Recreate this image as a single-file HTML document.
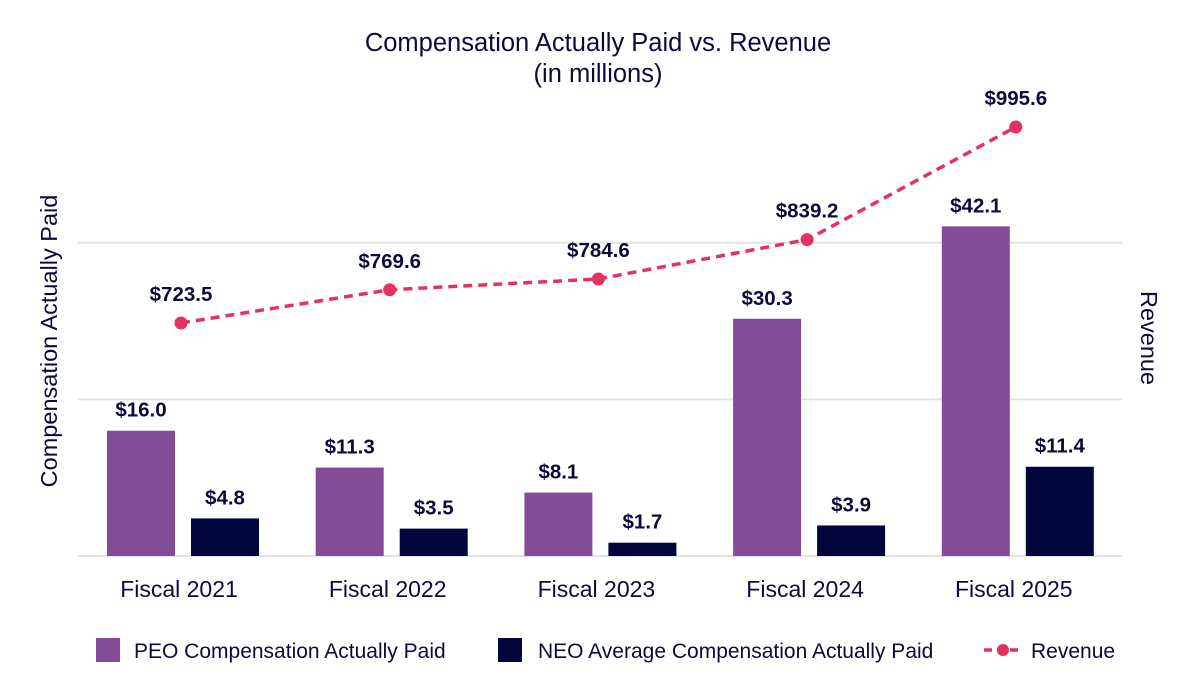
<!DOCTYPE html>
<html><head><meta charset="utf-8">
<style>
body{margin:0;background:#fff;}
svg{display:block;font-family:"Liberation Sans",Arial,sans-serif;}
</style></head>
<body>
<svg id="chart" width="1200" height="700" viewBox="0 0 1200 700">
<text x="598" y="51" text-anchor="middle" font-size="25.5" fill="#0b0b3b">Compensation Actually Paid vs. Revenue</text>
<text x="598" y="82" text-anchor="middle" font-size="25.5" fill="#0b0b3b">(in millions)</text>
<text transform="translate(57,341) rotate(-90)" text-anchor="middle" font-size="23.5" fill="#0b0b3b">Compensation Actually Paid</text>
<text transform="translate(1141,338) rotate(90)" text-anchor="middle" font-size="23.5" fill="#0b0b3b">Revenue</text>
<g id="grid"></g><g id="bars"></g><g id="line"></g><g id="labels"></g>
<g>
<rect x="96" y="638" width="24" height="24" fill="#844b96"/>
<text x="134" y="658" font-size="21" fill="#0b0b3b">PEO Compensation Actually Paid</text>
<rect x="498" y="638" width="24" height="24" fill="#03063d"/>
<text x="538" y="658" font-size="21" fill="#0b0b3b">NEO Average Compensation Actually Paid</text>
<line x1="984" y1="650" x2="1022" y2="650" stroke="#e4325f" stroke-width="3.5" stroke-dasharray="8,5"/>
<circle cx="1003" cy="650" r="6" fill="#e4325f"/>
<text x="1031" y="658" font-size="21" fill="#0b0b3b">Revenue</text>
</g>
</svg>
<script>
const categories=["Fiscal 2021","Fiscal 2022","Fiscal 2023","Fiscal 2024","Fiscal 2025"];
const peoValues=[16.0,11.3,8.1,30.3,42.1];
const neoValues=[4.8,3.5,1.7,3.9,11.4];
const revenueValues=[723.5,769.6,784.6,839.2,995.6];
const gridTicks=[0,20,40];
const NS="http://www.w3.org/2000/svg";
const base=556, leftK=7.83;
const yL=v=>base-v*leftK;
const yR=v=>base-(v-400)*0.7203;
const xC=i=>181+i*208.7;
function mk(tag,attrs,parent,txt){const e=document.createElementNS(NS,tag);for(const k in attrs)e.setAttribute(k,attrs[k]);if(txt!==undefined)e.textContent=txt;document.getElementById(parent).appendChild(e);return e;}
gridTicks.forEach(t=>{const g=mk('line',{x1:78,x2:1122,y1:yL(t),y2:yL(t),stroke:'#e3e3e3','stroke-width':2},'grid');

});
categories.forEach((c,i)=>{
 const cx=xC(i);
 const p=mk('rect',{x:cx-74,y:yL(peoValues[i]),width:68,height:peoValues[i]*leftK,fill:'#844b96'},'bars');
 
 
 const n=mk('rect',{x:cx+10,y:yL(neoValues[i]),width:68,height:neoValues[i]*leftK,fill:'#03063d'},'bars');
 
 
 const t1=mk('text',{x:cx-40,y:yL(peoValues[i])-14,'text-anchor':'middle','font-size':20.5,'font-weight':'bold',fill:'#0b0b3b'},'labels','$'+peoValues[i].toFixed(1));
 
 
 const t2=mk('text',{x:cx+44,y:yL(neoValues[i])-14,'text-anchor':'middle','font-size':20.5,'font-weight':'bold',fill:'#0b0b3b'},'labels','$'+neoValues[i].toFixed(1));
 
 
 const xl=mk('text',{x:cx-2,y:597,'text-anchor':'middle','font-size':23,fill:'#0b0b3b'},'labels',c);
 
 
});
const pts=revenueValues.map((v,i)=>xC(i)+','+yR(v)).join(' ');
const pl=mk('polyline',{points:pts,fill:'none',stroke:'#e4325f','stroke-width':3.5,'stroke-dasharray':'9,6'},'line');


revenueValues.forEach((v,i)=>{
 const c=mk('circle',{cx:xC(i),cy:yR(v),r:6.5,fill:'#e4325f'},'line');
 
 
 const t=mk('text',{x:xC(i),y:yR(v)-22,'text-anchor':'middle','font-size':20.5,'font-weight':'bold',fill:'#0b0b3b'},'labels','$'+v.toFixed(1));
 
 
});
</script>
</body></html>
